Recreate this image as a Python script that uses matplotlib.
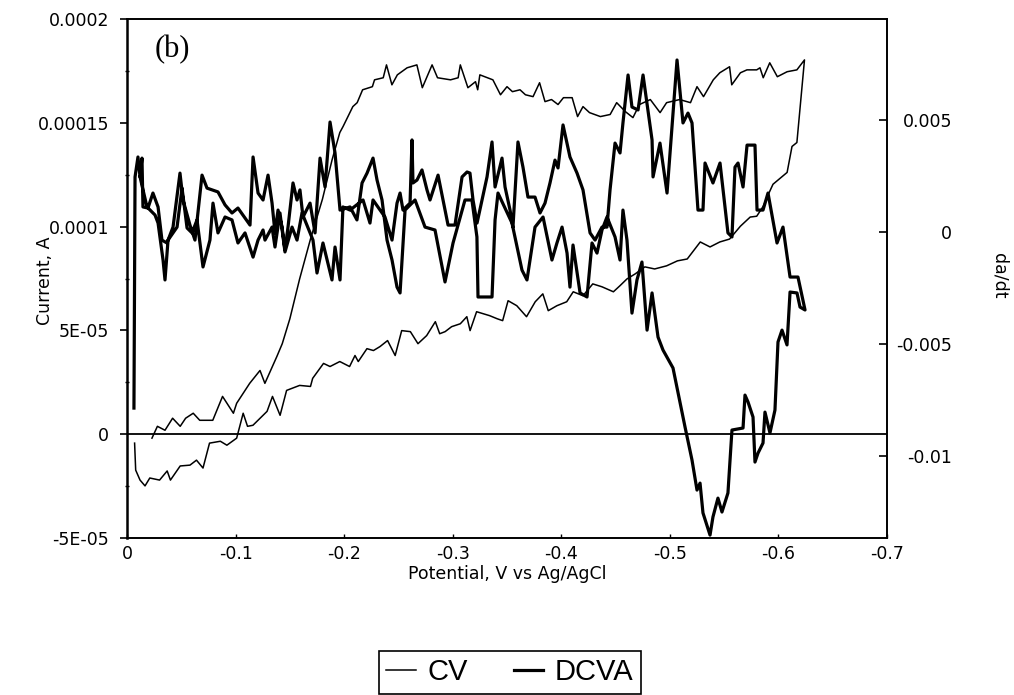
import numpy as np
import matplotlib
matplotlib.use("Agg")
import matplotlib.pyplot as plt
from matplotlib.lines import Line2D

plt.rcParams['font.family'] = ['DejaVu Sans']

# ---------------- data ----------------
# Cyclic voltammogram (CV): potential (V vs Ag/AgCl) and current (units of 1e-5 A)
cv_potential = [
    -0.023, -0.028, -0.035, -0.042, -0.049, -0.054, -0.061, -0.067, -0.079, -0.088,
    -0.098, -0.101, -0.113, -0.1225, -0.127, -0.138, -0.143, -0.150, -0.159, -0.169,
    -0.180, -0.189, -0.196, -0.199, -0.208, -0.212, -0.217, -0.226, -0.228, -0.236,
    -0.239, -0.244, -0.249, -0.258, -0.267, -0.272, -0.281, -0.286, -0.298, -0.305,
    -0.307, -0.314, -0.321, -0.323, -0.325, -0.337, -0.344, -0.350, -0.355, -0.362,
    -0.367, -0.374, -0.380, -0.385, -0.391, -0.397, -0.402, -0.410, -0.415, -0.420,
    -0.426, -0.436, -0.445, -0.451, -0.459, -0.466, -0.472, -0.482, -0.491, -0.497,
    -0.509, -0.519, -0.525, -0.531, -0.540, -0.546, -0.555, -0.557, -0.565, -0.571,
    -0.580, -0.583, -0.586, -0.592, -0.599, -0.608, -0.617, -0.624,
    # reverse sweep
    -0.617, -0.6125, -0.608, -0.595, -0.592, -0.586, -0.580, -0.574, -0.565, -0.555,
    -0.546, -0.537, -0.528, -0.521, -0.516, -0.507, -0.497, -0.486, -0.477, -0.468,
    -0.4605, -0.454, -0.448, -0.4375, -0.429, -0.420, -0.411, -0.405, -0.396, -0.388,
    -0.383, -0.376, -0.368, -0.359, -0.351, -0.346, -0.341, -0.334, -0.322, -0.316,
    -0.313, -0.307, -0.299, -0.293, -0.288, -0.284, -0.276, -0.268, -0.261, -0.253,
    -0.247, -0.240, -0.233, -0.227, -0.221, -0.213, -0.210, -0.205, -0.196, -0.187,
    -0.181, -0.171, -0.169, -0.159, -0.147, -0.141, -0.134, -0.129, -0.116, -0.111,
    -0.107, -0.101, -0.092, -0.086, -0.076, -0.070, -0.064, -0.058, -0.049, -0.040,
    -0.037, -0.030, -0.021, -0.0166, -0.012, -0.008, -0.007,
]
cv_current_e5 = [
    -0.19, 0.38, 0.19, 0.77, 0.38, 0.77, 1.01, 0.67, 0.67, 1.82,
    1.01, 1.49, 2.45, 3.07, 2.45, 3.74, 4.36, 5.56, 7.48, 9.40,
    11.32, 13.24, 14.53, 14.82, 15.78, 15.97, 16.59, 16.74, 17.07, 17.17,
    17.79, 16.83, 17.31, 17.65, 17.79, 16.69, 17.79, 17.17, 17.07, 17.17,
    17.79, 16.69, 16.98, 16.59, 17.31, 17.07, 16.35, 16.74, 16.50, 16.59,
    16.35, 16.26, 16.93, 16.02, 16.12, 15.88, 16.21, 16.21, 15.30, 15.78,
    15.49, 15.30, 15.40, 15.97, 15.54, 15.25, 15.88, 16.12, 15.49, 15.97,
    16.12, 15.97, 16.74, 16.26, 17.07, 17.41, 17.70, 16.83, 17.41, 17.55,
    17.55, 17.65, 17.17, 17.89, 17.22, 17.46, 17.55, 18.03,
    14.05, 13.86, 12.61, 12.04, 11.70, 10.98, 10.50, 10.46, 10.02, 9.40,
    9.26, 9.02, 9.26, 8.78, 8.44, 8.35, 8.11, 7.96, 8.06, 7.72,
    7.48, 7.15, 6.86, 7.10, 7.24, 6.67, 6.86, 6.38, 6.19, 5.95,
    6.76, 6.38, 5.66, 6.19, 6.43, 5.47, 5.56, 5.71, 5.90, 4.99,
    5.66, 5.32, 5.18, 4.94, 4.84, 5.42, 4.75, 4.36, 4.94, 4.99,
    3.79, 4.51, 4.22, 4.03, 4.12, 3.50, 3.79, 3.26, 3.50, 3.26,
    3.41, 2.69, 2.30, 2.35, 2.11, 0.91, 1.82, 1.10, 0.43, 0.38,
    1.01, -0.19, -0.53, -0.34, -0.43, -1.63, -1.25, -1.49, -1.53, -2.21,
    -1.77, -2.21, -2.11, -2.49, -2.21, -1.73, -0.43,
]

# DCVA (d alpha / dt, units of 1e-3), first branch left -> right
dcva_pot_a = [
    -0.0064, -0.0074, -0.0101, -0.0120, -0.0138, -0.0147, -0.0193, -0.0239, -0.0286, -0.0322,
    -0.0368, -0.0424, -0.0488, -0.0516, -0.0580, -0.0626, -0.0691, -0.0737, -0.0838, -0.0903,
    -0.0967, -0.1022, -0.1133, -0.1161, -0.1207, -0.1253, -0.1299, -0.1336, -0.1363, -0.1391,
    -0.1428, -0.1455, -0.1483, -0.1529, -0.1566, -0.1593, -0.1621, -0.1686, -0.1732, -0.1778,
    -0.1824, -0.1870, -0.1916, -0.1962, -0.2054, -0.2118, -0.2165, -0.2211, -0.2266, -0.2303,
    -0.2349, -0.2395, -0.2441, -0.2487, -0.2515, -0.2561, -0.2653, -0.2745, -0.2837, -0.2929,
    -0.3003, -0.3113, -0.3177, -0.3223, -0.3233, -0.3362, -0.3390, -0.3417, -0.3546, -0.3638,
    -0.3684, -0.3758, -0.3832, -0.3914, -0.3960, -0.4007, -0.4053, -0.4080, -0.4108, -0.4173,
    -0.4237, -0.4283, -0.4329, -0.4375, -0.4421, -0.4495, -0.4541, -0.4568, -0.4605, -0.4651,
    -0.4697, -0.4743, -0.4790, -0.4836, -0.4891, -0.4937, -0.5029, -0.5140, -0.5204, -0.5250,
    -0.5278, -0.5305, -0.5370, -0.5397, -0.5443, -0.5480, -0.5535, -0.5572, -0.5674, -0.5692,
    -0.5720, -0.5766, -0.5784, -0.5812, -0.5858, -0.5876, -0.5922, -0.5968, -0.5996, -0.6033,
    -0.6079, -0.6107, -0.6171, -0.6199, -0.6245,
]
dcva_rate_a_e3 = [
    -7.86, 2.46, 3.35, 2.46, 3.30, 1.12, 1.07, 1.74, 1.12, -0.36,
    -0.49, 0.22, 2.63, 1.43, 0.31, -0.36, 2.54, 1.96, 1.79, 1.21,
    0.85, 1.07, 0.31, 3.35, 1.74, 1.43, 2.54, 1.29, -0.04, 0.98,
    0.22, -0.80, 0.22, 2.19, 1.43, 1.88, 0.67, 1.29, -0.04, 3.30,
    2.01, 4.91, 3.53, 0.98, 1.12, 0.54, 2.19, 2.63, 3.30, 2.32,
    1.43, -0.36, -1.25, -2.46, -2.72, 0.98, 1.43, 0.22, 0.09, -2.23,
    -0.49, 1.43, 1.43, -0.22, -2.90, -2.90, 0.54, 1.74, 0.40, -1.70,
    -2.14, 0.22, 0.67, -1.25, -0.49, 0.22, -0.94, -2.46, -0.58, -2.72,
    -2.90, -0.49, -0.94, 0.09, 0.67, -0.22, -1.25, 0.98, -0.36, -3.62,
    -2.14, -1.34, -4.38, -2.72, -4.69, -5.27, -6.07, -8.71, -10.18, -11.52,
    -11.21, -12.54, -13.53, -12.72, -11.88, -12.50, -11.65, -8.84, -8.75, -7.28,
    -7.59, -8.26, -10.27, -9.87, -9.42, -8.04, -8.97, -7.95, -4.91, -4.38,
    -5.04, -2.68, -2.72, -3.35, -3.48,
]
# DCVA second branch, left -> right (drawn back from the turning point)
dcva_pot_b = [
    -0.0120, -0.0184, -0.0258, -0.0286, -0.0332, -0.0350, -0.0378, -0.0461, -0.0507, -0.0553,
    -0.0599, -0.0645, -0.0700, -0.0764, -0.0792, -0.0838, -0.0903, -0.0967, -0.1022, -0.1087,
    -0.1161, -0.1207, -0.1253, -0.1271, -0.1336, -0.1363, -0.1409, -0.1455, -0.1520, -0.1566,
    -0.1612, -0.1713, -0.1750, -0.1805, -0.1888, -0.1916, -0.1962, -0.1989, -0.2054, -0.2174,
    -0.2238, -0.2266, -0.2376, -0.2441, -0.2487, -0.2515, -0.2542, -0.2607, -0.2625, -0.2634,
    -0.2671, -0.2717, -0.2763, -0.2791, -0.2865, -0.2957, -0.3021, -0.3086, -0.3132, -0.3159,
    -0.3187, -0.3224, -0.3270, -0.3316, -0.3362, -0.3390, -0.3454, -0.3482, -0.3528, -0.3555,
    -0.3601, -0.3647, -0.3693, -0.3758, -0.3804, -0.3850, -0.3896, -0.3942, -0.3970, -0.4016,
    -0.4080, -0.4145, -0.4200, -0.4265, -0.4311, -0.4375, -0.4421, -0.4449, -0.4495, -0.4541,
    -0.4568, -0.4615, -0.4651, -0.4707, -0.4753, -0.4836, -0.4845, -0.4909, -0.4974, -0.5066,
    -0.5121, -0.5167, -0.5204, -0.5259, -0.5305, -0.5324, -0.5397, -0.5462, -0.5535, -0.5572,
    -0.5600, -0.5628, -0.5674, -0.5711, -0.5784, -0.5803, -0.5858, -0.5904, -0.5987, -0.6042,
    -0.6107, -0.6180,
]
dcva_rate_b_e3 = [
    2.46, 1.12, 0.76, 0.40, -1.25, -2.14, -0.36, 0.22, 1.96, 0.18,
    -0.04, 0.54, -1.56, -0.36, 1.29, -0.04, 0.67, 0.54, -0.49, -0.04,
    -1.12, -0.36, 0.09, -0.36, 0.22, -0.67, 0.85, -0.89, 0.22, -0.36,
    0.85, -0.36, -1.83, -0.49, -2.14, -0.67, -2.14, 1.12, 0.98, 1.43,
    0.40, 1.43, 0.67, -0.36, 1.29, 1.74, 0.98, 1.29, 4.11, 2.19,
    2.32, 2.77, 1.88, 1.43, 2.54, 0.31, 0.31, 2.46, 2.68, 2.63,
    1.43, 0.40, 1.43, 2.46, 4.02, 2.01, 3.30, 2.01, 0.98, 0.22,
    4.02, 2.90, 1.56, 1.56, 0.85, 1.29, 2.19, 3.21, 2.86, 4.78,
    3.35, 2.63, 1.88, -0.04, -0.36, 0.22, 0.22, 1.88, 3.97, 3.53,
    4.87, 7.01, 5.58, 5.45, 7.01, 4.11, 2.46, 3.97, 1.74, 7.68,
    4.87, 5.31, 4.87, 0.98, 0.98, 3.08, 2.19, 3.08, -0.04, -0.22,
    2.90, 3.08, 2.01, 3.88, 3.88, 0.98, 0.98, 1.74, -0.49, 0.22,
    -2.01, -2.01,
]

x_ticks = [0, -0.1, -0.2, -0.3, -0.4, -0.5, -0.6, -0.7]
x_tick_labels = ["0", "-0.1", "-0.2", "-0.3", "-0.4", "-0.5", "-0.6", "-0.7"]
left_ticks = [-5e-5, 0, 5e-5, 1e-4, 1.5e-4, 2e-4]
left_tick_labels = ["-5E-05", "0", "5E-05", "0.0001", "0.00015", "0.0002"]
right_ticks = [-0.01, -0.005, 0, 0.005]
right_tick_labels = ["-0.01", "-0.005", "0", "0.005"]

# ---------------- figure ----------------
W, H = 1014, 695
fig = plt.figure(figsize=(W / 100, H / 100), dpi=100)
ax = fig.add_axes([127 / W, 1 - 538 / H, 760 / W, 519 / H])
ax2 = ax.twinx()

cv_x = np.array(cv_potential)
cv_y = np.array(cv_current_e5) * 1e-5
ax.plot(cv_x, cv_y, color='black', lw=1.1, solid_joinstyle='round')
ax.axhline(0, color='black', lw=1.3)

d_x = np.concatenate([dcva_pot_a, dcva_pot_b[::-1]])
d_y = np.concatenate([dcva_rate_a_e3, dcva_rate_b_e3[::-1]]) * 1e-3
ax2.plot(d_x, d_y, color='black', lw=2.3, solid_joinstyle='round')

ax.set_xlim(0, -0.7)
ax.set_ylim(-5e-5, 2e-4)
ax2.set_ylim(-0.01366, 0.00951)

ax.set_xticks(x_ticks)
ax.set_xticklabels(x_tick_labels)
ax.set_yticks(left_ticks)
ax.set_yticklabels(left_tick_labels)
ax.set_yticks([-2.5e-5, 2.5e-5, 7.5e-5, 1.25e-4, 1.75e-4], minor=True)
ax2.set_yticks(right_ticks)
ax2.set_yticklabels(right_tick_labels)

fs = 12.5
ax.tick_params(axis='x', direction='in', length=3, width=1, pad=5, labelsize=fs)
ax.tick_params(axis='y', which='major', direction='out', length=5, width=1.2, pad=8, labelsize=fs)
ax.tick_params(axis='y', which='minor', direction='inout', length=3, width=1)
ax2.tick_params(axis='y', direction='in', length=6, width=1.2, pad=47, labelsize=fs)
for lab in ax2.get_yticklabels():
    lab.set_horizontalalignment('right')

for sp in ['top', 'right', 'bottom']:
    ax.spines[sp].set_linewidth(1.2)
    ax2.spines[sp].set_linewidth(1.2)
ax.spines['left'].set_linewidth(1.8)
ax2.spines['left'].set_visible(False)

fig.text(507 / W, 1 - 574 / H, "Potential, V vs Ag/AgCl", ha='center', va='center', fontsize=fs)
fig.text(45 / W, 1 - 281 / H, "Current, A", ha='center', va='center', rotation=90, fontsize=fs)
fig.text(1000 / W, 1 - 276 / H, "da/dt", ha='center', va='center', rotation=270, fontsize=fs)
fig.text(155 / W, 1 - 50 / H, "(b)", ha='left', va='center', fontsize=22,
         family=['Liberation Serif', 'DejaVu Serif'])

handles = [Line2D([], [], color='black', lw=1.1), Line2D([], [], color='black', lw=2.3)]
leg = fig.legend(handles, ["CV", "DCVA"], loc='upper center',
                 bbox_to_anchor=(510 / W, 1 - 651 / H), ncol=2,
                 prop={'family': ['Liberation Sans', 'DejaVu Sans'], 'size': 21},
                 frameon=True, fancybox=False, edgecolor='black', framealpha=1,
                 handlelength=1.0, handletextpad=0.4, columnspacing=1.6,
                 borderpad=0.25, borderaxespad=0)
leg.get_frame().set_linewidth(1.2)

fig.savefig("out.png", dpi=100)
